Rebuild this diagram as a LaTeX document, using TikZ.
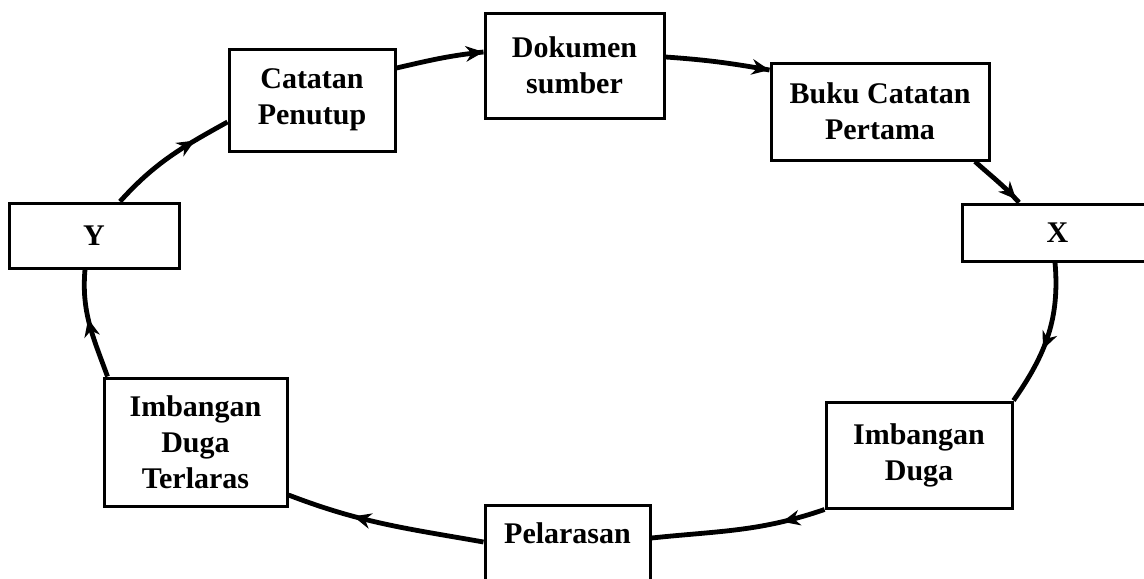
\documentclass[tikz,border=0pt]{standalone}
\usepackage{fontspec}
\setmainfont{Liberation Serif}
\usetikzlibrary{calc,decorations.markings}

\tikzset{
  stage/.style={draw, line width=1.5pt, align=center, inner sep=0pt,
    font=\bfseries\fontsize{15}{18}\selectfont},
  flow/.style={line width=2.4pt},
  tipat/.style={postaction={decorate}, decoration={markings,
    mark=at position #1 with {\fill (-18,-8) -- (0,0) -- (-18,8) -- (-12,0) -- cycle;}}}
}

\begin{document}
\begin{tikzpicture}[x=0.5pt,y=0.5pt,yscale=-1]
\useasboundingbox (0,0) rectangle (1144,578);

% Boxes
\node[stage, minimum width=83pt, minimum height=51pt] (pen) at (312,100) {Catatan\\Penutup};
\node[stage, minimum width=89.5pt, minimum height=52.5pt] (dok) at (574.5,65.5) {Dokumen\\sumber};
\node[stage, minimum width=109pt, minimum height=48.5pt] (buku) at (880,111.5) {Buku Catatan\\Pertama};
\node[stage, minimum width=95.5pt, minimum height=28.5pt] (X) at (1057.5,232.5) {X};
\node[stage, minimum width=93pt, minimum height=53pt] (idg) at (919,455) {Imbangan\\Duga};
\node[stage, minimum width=82.5pt, anchor=base, text height=19pt, text depth=30pt] (pel) at (567.5,543) {Pelarasan};
\node[stage, minimum width=91.5pt, minimum height=64pt] (idt) at (195.5,442) {Imbangan\\Duga\\Terlaras};
\node[stage, minimum width=85pt, minimum height=32.5pt] (Y) at (94,235.5) {Y};

%Curved Lines
\draw[flow, tipat=1] ($(pen.east)+(0,-32)$) to[out=347, in=174] ($(dok.west)+(0,-13.5)$);
\draw[flow, tipat=1] ($(dok.east)+(0,-8.5)$) to[out=4, in=190] ($(buku.west)+(0,-41.5)$);
\draw[flow, tipat=0.93] ($(buku.south)+(95,0)$) to[out=42, in=228] ($(X.north)+(-38.5,0)$);
\draw[flow, tipat=0.6] ($(X.south)+(-2.5,0)$) to[out=85, in=305] (idg.north east);
\draw[flow, tipat=0.25] (idg.south west) to[out=161, in=354] ($(pel.east)+(0,-16)$);
\draw[flow, tipat=0.66] ($(pel.west)+(0,-12)$) to[out=190, in=21] ($(idt.east)+(0,53)$);
\draw[flow, tipat=0.55] ($(idt.north west)+(5,0)$) to[out=250, in=95] ($(Y.south)+(-9,0)$);
\draw[flow, tipat=0.72] ($(Y.north)+(26,0)$) to[out=312, in=151] ($(pen.west)+(0,22)$);

\end{tikzpicture}
\end{document}
